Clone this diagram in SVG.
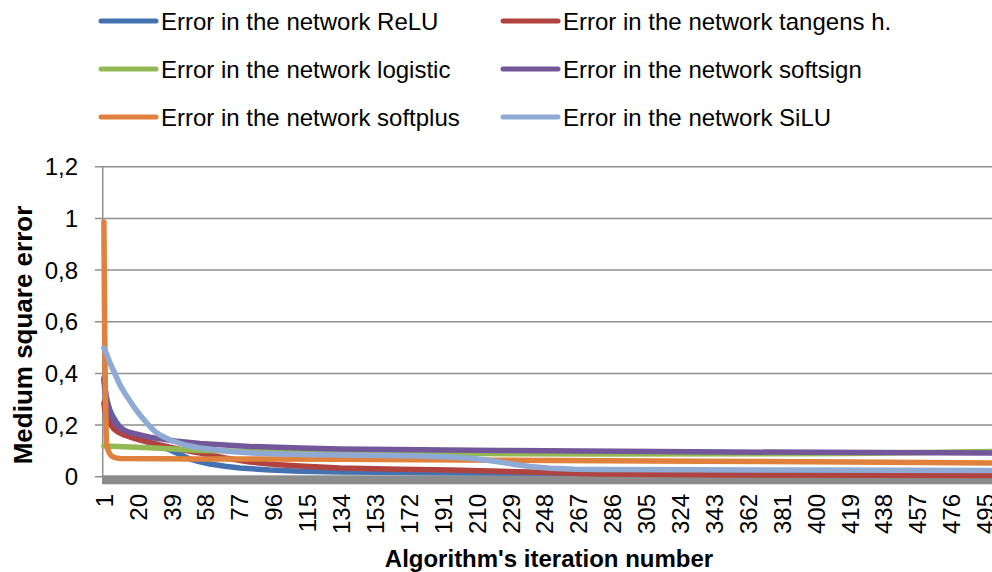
<svg xmlns="http://www.w3.org/2000/svg" width="992" height="572" viewBox="0 0 992 572">
<style>
text{font-family:"Liberation Sans",Arial,sans-serif;fill:#000}
.lg{font-size:24px}
.tk{font-size:24px}
.ttl{font-weight:bold}
.grid{stroke:#8f8f8f;stroke-width:1.5;fill:none}
.s{fill:none;stroke-width:5.5;stroke-linejoin:round;stroke-linecap:round}
.lgl{stroke-width:5;stroke-linecap:round}
.relu{stroke:#4472b0}.tanh{stroke:#b0433f}.logi{stroke:#93b955}.ssgn{stroke:#73579a}.splus{stroke:#e0823d}.silu{stroke:#8faad4}
</style>
<rect width="992" height="572" fill="#fff"/>
<g id="legend">
  <g id="leg-relu"><line class="lgl relu" x1="101" y1="21" x2="156" y2="21"/><text class="lg" x="161" y="29.5">Error in the network ReLU</text></g>
  <g id="leg-tanh"><line class="lgl tanh" x1="503" y1="21" x2="558" y2="21"/><text class="lg" x="563" y="29.5">Error in the network tangens h.</text></g>
  <g id="leg-logistic"><line class="lgl logi" x1="101" y1="69" x2="156" y2="69"/><text class="lg" x="161" y="77.5">Error in the network logistic</text></g>
  <g id="leg-softsign"><line class="lgl ssgn" x1="503" y1="69" x2="558" y2="69"/><text class="lg" x="563" y="77.5">Error in the network softsign</text></g>
  <g id="leg-softplus"><line class="lgl splus" x1="101" y1="117" x2="156" y2="117"/><text class="lg" x="161" y="125.5">Error in the network softplus</text></g>
  <g id="leg-silu"><line class="lgl silu" x1="503" y1="117" x2="558" y2="117"/><text class="lg" x="563" y="125.5">Error in the network SiLU</text></g>
</g>
<g id="grid">
  <line class="grid" x1="95" y1="166.7" x2="992" y2="166.7"/>
  <line class="grid" x1="95" y1="218.4" x2="992" y2="218.4"/>
  <line class="grid" x1="95" y1="270" x2="992" y2="270"/>
  <line class="grid" x1="95" y1="321.7" x2="992" y2="321.7"/>
  <line class="grid" x1="95" y1="373.4" x2="992" y2="373.4"/>
  <line class="grid" x1="95" y1="425" x2="992" y2="425"/>
  <line class="grid" x1="95" y1="476.7" x2="103" y2="476.7"/>
  <line class="grid" x1="102.7" y1="166" x2="102.7" y2="478"/>
</g>
<g id="y-labels" class="tk" text-anchor="end">
  <text class="tk" x="78" y="175.3">1,2</text>
  <text class="tk" x="78" y="227">1</text>
  <text class="tk" x="78" y="278.6">0,8</text>
  <text class="tk" x="78" y="330.3">0,6</text>
  <text class="tk" x="78" y="382">0,4</text>
  <text class="tk" x="78" y="433.6">0,2</text>
  <text class="tk" x="78" y="485.3">0</text>
</g>
<rect id="x-axis" x="102" y="475.3" width="890" height="9" fill="#8c8c8c"/>
<g id="series">
  <polyline id="s-relu" class="s relu" points="103.9,378 105,388 107,400 109.5,409 112,415 116,421.5 120,427 127,432.5 135,437 150,443 170,450 180,454.5 190,459 200,461.8 210,464 225,466.3 240,468 270,470 300,471.2 340,472 420,472.6 500,473 700,473.8 992,474.5"/>
  <polyline id="s-tanh" class="s tanh" points="103.9,403 105,411 107,418 110,424 114,429 118,432 124,435 130,437 140,440 160,445 180,449.5 200,453 225,458 250,462 275,464.5 300,466 340,468 400,469.2 450,470 530,472 600,474 730,475 992,475.5"/>
  <polyline id="s-logistic" class="s logi" points="103.9,446 150,447.8 200,450.5 275,452 350,452.8 470,453.5 600,454 850,453.5 992,451.5"/>
  <polyline id="s-softsign" class="s ssgn" points="103.9,380 105,392 107,402 110,413 113,420 117,425.5 122,429.5 130,432.5 140,435 150,437.3 175,441 200,443.5 250,446.5 300,448 340,449 500,450.5 730,452 992,453"/>
  <path id="s-softplus" class="s splus" d="M103.9,222 C104.6,330 105.3,420 106.5,443 C108,454 111,458 120,458.5 L200,459 L340,459.2 L500,460.2 L700,461.3 L850,462 L992,463"/>
  <polyline id="s-silu" class="s silu" points="103.9,348 107,355 110,363 115,374 120,385 125,393.5 130,401 135,408.5 140,415 145,421 150,426.5 155,431.5 160,435 170,440 185,445 200,448 230,451.5 260,453.5 300,454.5 340,455 420,456 450,457 470,458.3 485,460 500,462 515,464.5 530,466.5 550,468.3 575,469.2 600,469.5 800,470 992,470.5"/>
</g>
<g id="x-labels" class="tk" text-anchor="end">
  <text class="tk" transform="translate(112.7,494) rotate(-90)">1</text>
  <text class="tk" transform="translate(146.6,494) rotate(-90)">20</text>
  <text class="tk" transform="translate(180.5,494) rotate(-90)">39</text>
  <text class="tk" transform="translate(214.4,494) rotate(-90)">58</text>
  <text class="tk" transform="translate(248.3,494) rotate(-90)">77</text>
  <text class="tk" transform="translate(282.2,494) rotate(-90)">96</text>
  <text class="tk" transform="translate(316.1,494) rotate(-90)">115</text>
  <text class="tk" transform="translate(350,494) rotate(-90)">134</text>
  <text class="tk" transform="translate(383.9,494) rotate(-90)">153</text>
  <text class="tk" transform="translate(417.8,494) rotate(-90)">172</text>
  <text class="tk" transform="translate(451.7,494) rotate(-90)">191</text>
  <text class="tk" transform="translate(485.6,494) rotate(-90)">210</text>
  <text class="tk" transform="translate(519.5,494) rotate(-90)">229</text>
  <text class="tk" transform="translate(553.4,494) rotate(-90)">248</text>
  <text class="tk" transform="translate(587.3,494) rotate(-90)">267</text>
  <text class="tk" transform="translate(621.2,494) rotate(-90)">286</text>
  <text class="tk" transform="translate(655.1,494) rotate(-90)">305</text>
  <text class="tk" transform="translate(689,494) rotate(-90)">324</text>
  <text class="tk" transform="translate(722.9,494) rotate(-90)">343</text>
  <text class="tk" transform="translate(756.8,494) rotate(-90)">362</text>
  <text class="tk" transform="translate(790.7,494) rotate(-90)">381</text>
  <text class="tk" transform="translate(824.6,494) rotate(-90)">400</text>
  <text class="tk" transform="translate(858.5,494) rotate(-90)">419</text>
  <text class="tk" transform="translate(892.4,494) rotate(-90)">438</text>
  <text class="tk" transform="translate(926.3,494) rotate(-90)">457</text>
  <text class="tk" transform="translate(960.2,494) rotate(-90)">476</text>
  <text class="tk" transform="translate(994.1,494) rotate(-90)">495</text>
</g>
<g id="axis-titles">
  <text class="ttl" font-size="24" x="549" y="567" text-anchor="middle">Algorithm's iteration number</text>
  <text class="ttl" font-size="26" transform="translate(31.5,335) rotate(-90)" text-anchor="middle">Medium square error</text>
</g>
</svg>
